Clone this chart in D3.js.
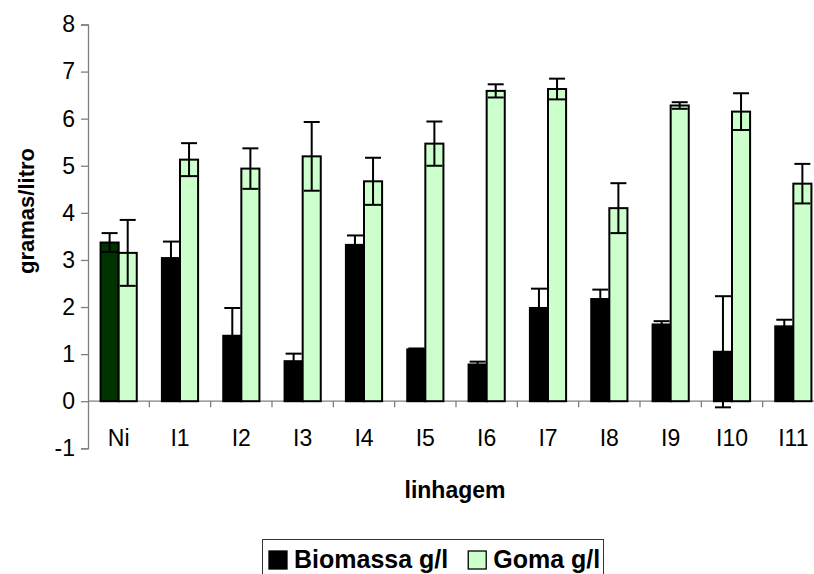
<!DOCTYPE html>
<html>
<head>
<meta charset="utf-8">
<script src="https://cdn.jsdelivr.net/npm/d3@7"></script>
<style>
  html, body { margin: 0; padding: 0; background: #fff; }
  svg { display: block; font-family: Arial, "Liberation Sans", sans-serif; }
</style>
</head>
<body>
<svg id="chart" width="814" height="574"></svg>
<script>
const categories = ["Ni", "I1", "I2", "I3", "I4", "I5", "I6", "I7", "I8", "I9", "I10", "I11"];
const seriesNames = ["Biomassa g/l", "Goma g/l"];
const biomassa = [3.37, 3.04, 1.39, 0.85, 3.32, 1.10, 0.78, 1.98, 2.17, 1.63, 1.05, 1.59];
const biomassaErr = [0.20, 0.35, 0.59, 0.16, 0.20, 0.02, 0.06, 0.41, 0.20, 0.07, 1.18, 0.14];
const goma = [3.15, 5.13, 4.94, 5.20, 4.67, 5.47, 6.59, 6.63, 4.10, 6.28, 6.15, 4.62];
const gomaErr = [0.70, 0.35, 0.43, 0.73, 0.50, 0.47, 0.14, 0.22, 0.53, 0.07, 0.39, 0.42];
const yTicks = [-1, 0, 1, 2, 3, 4, 5, 6, 7, 8];

const svg = d3.select("#chart");
const plotLeft = 88, plotRight = 824, plotTop = 24.5, plotBottom = 448.3;

const x0 = d3.scaleBand().domain(categories).range([plotLeft, plotRight]).paddingInner(0.41).paddingOuter(0.205);
const x1 = d3.scaleBand().domain(seriesNames).range([0, x0.bandwidth()]);
const y = d3.scaleLinear().domain([-1, 8]).range([plotBottom, plotTop]);

const colorFor = (s, i) => s === 0 ? (i === 0 ? "#003300" : "#000000") : "#CCFFCC";

const data = categories.map((c, i) => ({
  cat: c, i,
  vals: [
    { s: 0, v: biomassa[i], e: biomassaErr[i], i },
    { s: 1, v: goma[i], e: gomaErr[i], i }
  ]
}));

// Y axis
const yAxis = d3.axisLeft(y).tickValues(yTicks).tickSize(7).tickPadding(6).tickFormat(d => String(d));
const gy = svg.append("g").attr("transform", `translate(${plotLeft},0)`).call(yAxis);
gy.select(".domain").attr("stroke", "#7f7f7f").attr("stroke-width", 1.3);
gy.selectAll(".tick line").attr("stroke", "#7f7f7f").attr("stroke-width", 1.3);
gy.selectAll(".tick text").attr("font-size", 23).attr("fill", "#000").attr("font-family", "Arial, 'Liberation Sans', sans-serif");

// X axis at zero
const edge = c => x0(c) - x0.step() * x0.paddingInner() / 2;
const gx = svg.append("g");
gx.append("line").attr("x1", plotLeft).attr("x2", plotRight).attr("y1", y(0)).attr("y2", y(0))
  .attr("stroke", "#7f7f7f").attr("stroke-width", 1.3);
gx.selectAll("line.tk").data(categories.slice(1)).join("line").attr("class", "tk")
  .attr("x1", edge).attr("x2", edge)
  .attr("y1", y(0)).attr("y2", y(0) + 6)
  .attr("stroke", "#7f7f7f").attr("stroke-width", 1.3);
gx.selectAll("text").data(categories).join("text")
  .attr("x", c => x0(c) + x0.bandwidth() / 2)
  .attr("y", 446)
  .attr("text-anchor", "middle")
  .attr("font-size", 23)
  .text(c => c);

// Bars
const groups = svg.append("g").selectAll("g").data(data).join("g")
  .attr("transform", d => `translate(${x0(d.cat)},0)`);
groups.selectAll("rect").data(d => d.vals).join("rect")
  .attr("x", d => x1(seriesNames[d.s]))
  .attr("width", x1.bandwidth())
  .attr("y", d => y(Math.max(0, d.v)))
  .attr("height", d => Math.abs(y(d.v) - y(0)))
  .attr("fill", d => colorFor(d.s, d.i))
  .attr("stroke", "#000")
  .attr("stroke-width", 2);

// Error bars
const capW = 8;
const eb = groups.selectAll("g.err").data(d => d.vals).join("g").attr("class", "err")
  .attr("transform", d => `translate(${x1(seriesNames[d.s]) + x1.bandwidth() / 2},0)`);
eb.append("line").attr("x1", 0).attr("x2", 0)
  .attr("y1", d => y(d.v + d.e)).attr("y2", d => y(d.v - d.e))
  .attr("stroke", "#000").attr("stroke-width", 2);
eb.append("line").attr("x1", -capW).attr("x2", capW)
  .attr("y1", d => y(d.v + d.e)).attr("y2", d => y(d.v + d.e))
  .attr("stroke", "#000").attr("stroke-width", 2);
eb.append("line").attr("x1", -capW).attr("x2", capW)
  .attr("y1", d => y(d.v - d.e)).attr("y2", d => y(d.v - d.e))
  .attr("stroke", "#000").attr("stroke-width", 2);

// Axis titles
svg.append("text").attr("x", 455).attr("y", 498).attr("text-anchor", "middle")
  .attr("font-size", 23).attr("font-weight", "bold").text("linhagem");
svg.append("text").attr("transform", "translate(34,211) rotate(-90)").attr("text-anchor", "middle")
  .attr("font-size", 22).attr("font-weight", "bold").text("gramas/litro");

// Legend
const lg = svg.append("g");
lg.append("rect").attr("x", 262.5).attr("y", 539.5).attr("width", 341).attr("height", 60)
  .attr("fill", "#fff").attr("stroke", "#333").attr("stroke-width", 1);
let lx = 269;
seriesNames.forEach((name, s) => {
  lg.append("rect").attr("x", lx).attr("y", 551).attr("width", 18).attr("height", 18)
    .attr("fill", s === 0 ? "#000" : "#CCFFCC").attr("stroke", "#000").attr("stroke-width", 1.3);
  const t = lg.append("text").attr("x", lx + 25).attr("y", 568).attr("font-size", 25)
    .attr("font-weight", "bold").text(name);
  lx = lx + 25 + t.node().getComputedTextLength() + 20;
});
</script>
</body>
</html>
